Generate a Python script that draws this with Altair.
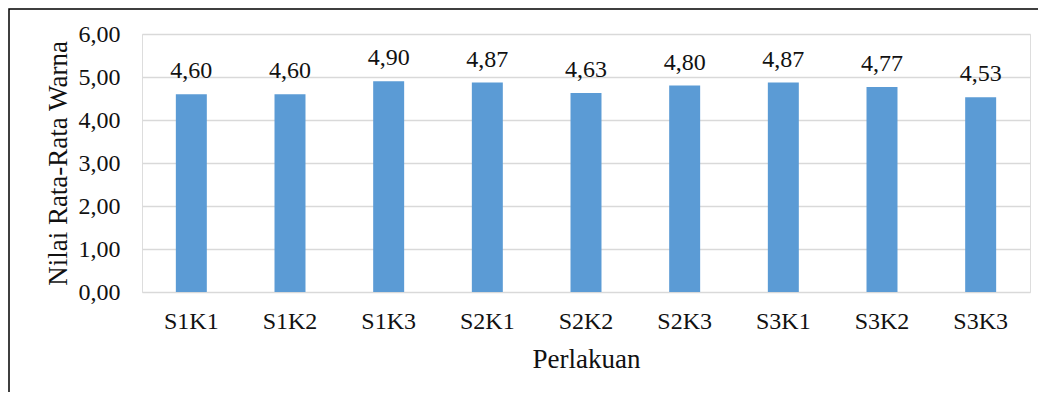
import altair as alt
import pandas as pd

categories = ["S1K1", "S1K2", "S1K3", "S2K1", "S2K2", "S2K3", "S3K1", "S3K2", "S3K3"]
values = [4.60, 4.60, 4.90, 4.87, 4.63, 4.80, 4.87, 4.77, 4.53]
y_ticks = [0, 1, 2, 3, 4, 5, 6]

df = pd.DataFrame({"Perlakuan": categories, "Nilai": values})

FONT = "Liberation Serif"
W, H = 888, 258

x_enc = alt.X(
    "Perlakuan:N",
    sort=categories,
    scale=alt.Scale(paddingInner=0.686, paddingOuter=0.343),
    axis=alt.Axis(
        title="Perlakuan",
        labelAngle=0,
        labelFont=FONT,
        labelFontSize=24,
        labelColor="#111111",
        labelBaseline="alphabetic",
        labelPadding=36,
        ticks=False,
        tickSize=0,
        domain=False,
        titleFont=FONT,
        titleFontSize=27,
        titleFontWeight="normal",
        titleColor="#111111",
        titleBaseline="alphabetic",
        titleX=W / 2,
        titleY=75,
    ),
)

y_enc = alt.Y(
    "Nilai:Q",
    scale=alt.Scale(domain=[0, 6], nice=False),
    axis=alt.Axis(
        title="Nilai Rata-Rata Warna",
        values=y_ticks,
        labelExpr="replace(format(datum.value, '.2f'), '.', ',')",
        labelFont=FONT,
        labelFontSize=24,
        labelColor="#111111",
        labelPadding=22,
        ticks=False,
        tickSize=0,
        domain=False,
        grid=True,
        gridColor="#D9D9D9",
        gridWidth=1.3,
        titleFont=FONT,
        titleFontSize=27,
        titleFontWeight="normal",
        titleColor="#111111",
        titleBaseline="middle",
        titleX=-84,
        titleY=H / 2,
        titleAngle=270,
    ),
)

bars = alt.Chart(df).mark_bar(color="#5B9BD5").encode(x=x_enc, y=y_enc)

labels = (
    alt.Chart(df)
    .transform_calculate(lbl="replace(format(datum.Nilai, '.2f'), '.', ',')")
    .mark_text(font=FONT, fontSize=24, color="#111111", baseline="alphabetic", dy=-16)
    .encode(x=alt.X("Perlakuan:N", sort=categories), y="Nilai:Q", text="lbl:N")
)

border = (
    alt.Chart(pd.DataFrame({"a": [1]}))
    .mark_rect(fill="transparent", stroke="#000000", strokeWidth=1.5)
    .encode(
        x=alt.value(-133),
        y=alt.value(-25),
        x2=alt.value(W + 300),
        y2=alt.value(H + 300),
    )
)

chart = (
    alt.layer(border, bars, labels)
    .properties(
        width=W,
        height=H,
        autosize=alt.AutoSizeParams(type="none"),
        padding={"left": 134, "top": 26, "right": 8, "bottom": 100},
    )
    .configure_view(stroke=None)
    .configure(background="white")
)

chart.save("out.html", embed_options={"renderer": "svg", "actions": False})
